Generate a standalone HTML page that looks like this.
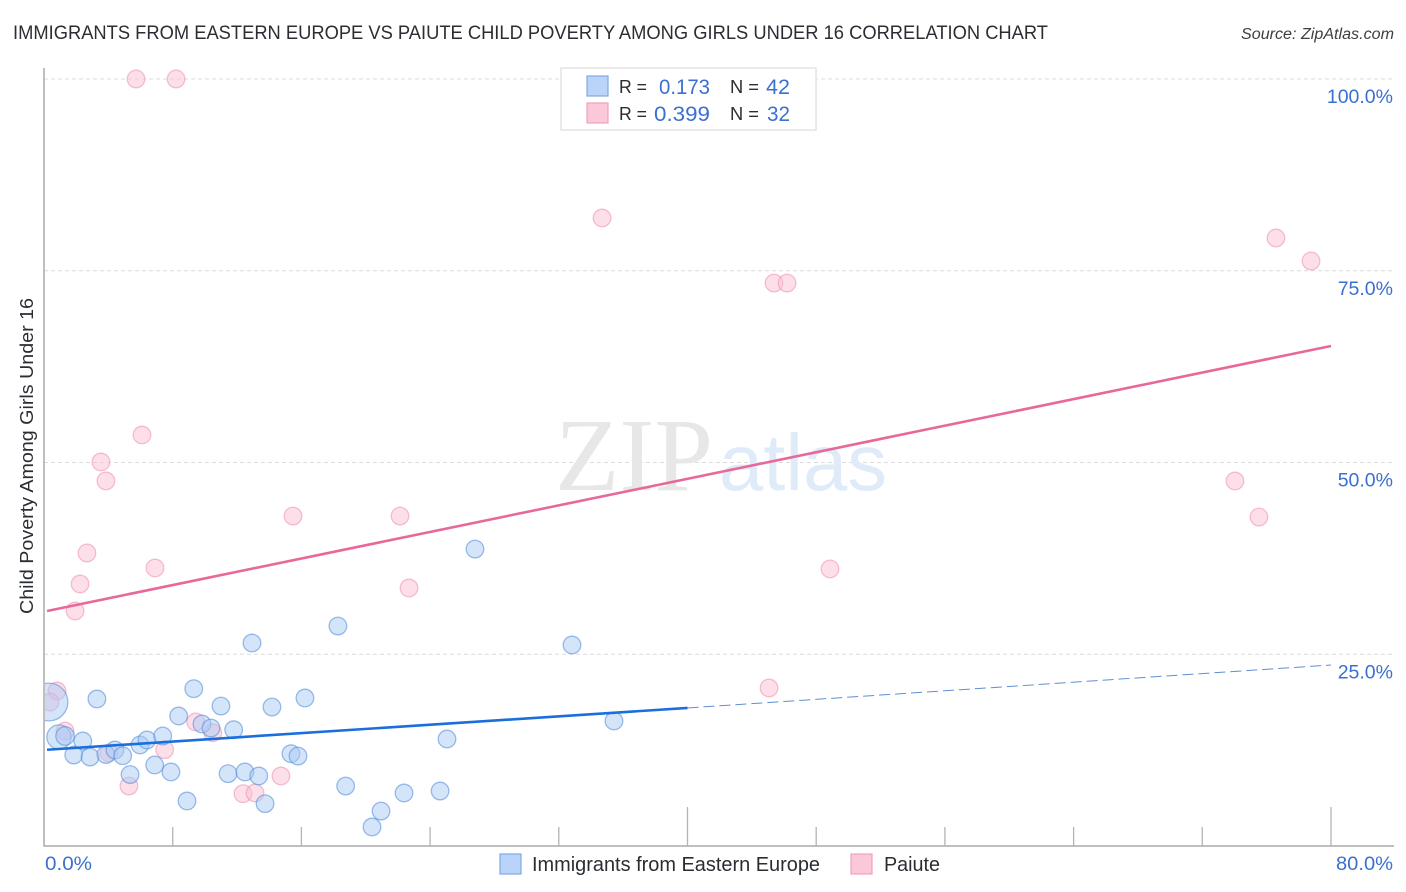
<!DOCTYPE html>
<html lang="en">
<head>
<meta charset="utf-8">
<title>Immigrants from Eastern Europe vs Paiute Child Poverty Correlation Chart</title>
<style>
html,body{margin:0;padding:0;background:#fff;width:1406px;height:892px;overflow:hidden}
svg{display:block}
text{font-family:"Liberation Sans",sans-serif}
</style>
</head>
<body>
<svg id="chart" width="1406" height="892" viewBox="0 0 1406 892" xmlns="http://www.w3.org/2000/svg">
  <defs><clipPath id="plot-clip"><rect x="45" y="60" width="1349" height="786"/></clipPath></defs>
  <text x="13" y="39" font-size="19" fill="#2a2e33" textLength="1035" lengthAdjust="spacingAndGlyphs">IMMIGRANTS FROM EASTERN EUROPE VS PAIUTE CHILD POVERTY AMONG GIRLS UNDER 16 CORRELATION CHART</text>
  <text x="1241" y="39" font-size="15.5" font-style="italic" fill="#3c4043" textLength="153" lengthAdjust="spacingAndGlyphs">Source: ZipAtlas.com</text>
  <g id="grid"></g>
  <text x="555" y="490" font-size="104" fill="#e7e7e7" style="font-family:'Liberation Serif',serif" textLength="158" lengthAdjust="spacingAndGlyphs">ZIP</text>
  <text x="719" y="490" font-size="80" fill="#e0ebf9" textLength="168" lengthAdjust="spacingAndGlyphs">atlas</text>
  <g id="axes"></g>
  <g id="points" clip-path="url(#plot-clip)"></g>
  <g id="trends"></g>
  <g id="ticks"></g>
  <text transform="translate(33,614) rotate(-90)" font-size="18.5" fill="#2a2e33" textLength="316" lengthAdjust="spacingAndGlyphs">Child Poverty Among Girls Under 16</text>

  <g>
    <rect x="561" y="68" width="255" height="62" fill="#fff" stroke="#e4e4e4" stroke-width="1.5"/>
    <rect x="587" y="76" width="21" height="20" fill="#b9d4f8" stroke="#7fa9e3" stroke-width="1.2"/>
    <rect x="587" y="103" width="21" height="20" fill="#fbc8d9" stroke="#f2a0ba" stroke-width="1.2"/>
    <text x="619" y="93" font-size="18.5" fill="#2a2e33" textLength="28" lengthAdjust="spacingAndGlyphs">R =</text>
    <text x="659" y="94" font-size="21" fill="#3a70d0" textLength="51" lengthAdjust="spacingAndGlyphs">0.173</text>
    <text x="730" y="93" font-size="18.5" fill="#2a2e33" textLength="29" lengthAdjust="spacingAndGlyphs">N =</text>
    <text x="766" y="94" font-size="21" fill="#3a70d0" textLength="24" lengthAdjust="spacingAndGlyphs">42</text>
    <text x="619" y="120" font-size="18.5" fill="#2a2e33" textLength="28" lengthAdjust="spacingAndGlyphs">R =</text>
    <text x="654" y="121" font-size="21" fill="#3a70d0" textLength="56" lengthAdjust="spacingAndGlyphs">0.399</text>
    <text x="730" y="120" font-size="18.5" fill="#2a2e33" textLength="29" lengthAdjust="spacingAndGlyphs">N =</text>
    <text x="767" y="121" font-size="21" fill="#3a70d0" textLength="23" lengthAdjust="spacingAndGlyphs">32</text>
  </g>

  <g>
    <rect x="500" y="854" width="21" height="20" fill="#b9d4f8" stroke="#7fa9e3" stroke-width="1.2"/>
    <text x="532" y="871" font-size="20" fill="#2a2e33" textLength="288" lengthAdjust="spacingAndGlyphs">Immigrants from Eastern Europe</text>
    <rect x="851" y="854" width="21" height="20" fill="#fbc8d9" stroke="#f2a0ba" stroke-width="1.2"/>
    <text x="884" y="871" font-size="20" fill="#2a2e33" textLength="56" lengthAdjust="spacingAndGlyphs">Paiute</text>
  </g>
</svg>
<script>
const xTickValues = [0, 8, 16, 24, 32, 40, 48, 56, 64, 72, 80];
const xMajorTicks = [40, 80];
const xTickLabels = ['0.0%', '80.0%'];
const xTickLabelValues = [0, 80];
const yTickValues = [100, 75, 50, 25];
const yTickLabels = ['100.0%', '75.0%', '50.0%', '25.0%'];

const blueX = [0.31,0.93,1.31,2.41,1.85,2.86,3.29,3.85,4.41,4.89,5.35,5.97,6.40,6.88,7.38,7.89,8.37,8.89,9.31,9.82,10.38,11.00,11.44,11.79,12.49,12.93,13.35,13.74,14.17,15.35,15.79,16.22,18.27,18.75,20.39,20.95,22.38,24.62,25.05,26.79,32.82,35.43];
const blueY = [18.77,14.21,14.34,13.69,11.86,11.60,19.17,11.93,12.52,11.77,9.32,13.17,13.82,10.56,14.34,9.65,16.95,5.87,20.51,15.91,15.38,18.25,9.43,15.16,9.65,26.47,9.13,5.52,18.12,12.03,11.73,19.30,28.68,7.82,2.48,4.56,6.91,7.17,13.95,38.72,26.21,16.30];
const blueWeight = [4.6,1.9,1.1,1,1,1,1,1,1,1,1,1,1,1,1,1,1,1,1,1,1,1,1,1,1,1,1,1,1,1,1,1,1,1,1,1,1,1,1,1,1,1];

const pinkX = [5.72,8.21,34.69,45.38,46.19,76.58,78.76,6.09,3.54,3.85,15.48,22.13,2.67,6.90,2.24,1.93,22.69,48.86,74.03,75.52,45.07,0.81,0.37,1.31,4.04,7.50,5.28,9.43,10.49,12.37,13.12,14.73];
const pinkY = [100,100,81.88,73.40,73.40,79.27,76.27,53.59,50.07,47.59,43.02,43.02,38.20,36.25,34.16,30.64,33.64,36.12,47.59,42.89,20.60,20.21,18.77,14.99,12.13,12.56,7.82,16.17,14.77,6.82,6.91,9.13];

const blueTrendX = [0.19, 40];
const blueTrendY = [12.55, 18.0];
const blueDashX = [40, 80];
const blueDashY = [18.0, 23.6];
const pinkTrendX = [0.19, 80];
const pinkTrendY = [30.64, 65.19];

const SVGNS = 'http://www.w3.org/2000/svg';
function xScale(v) { return 44 + (1331 - 44) * v / 80; }
function yScale(v) { return 846 - (846 - 79) * v / 100; }
function rScale(w) { return 8.8 * Math.sqrt(w); }
function make(tag, attrs, parent) {
  const el = document.createElementNS(SVGNS, tag);
  for (const k in attrs) el.setAttribute(k, attrs[k]);
  parent.appendChild(el);
  return el;
}

const gridG = document.getElementById('grid');
yTickValues.forEach(function (v) {
  const l = make('line', {x1: 44, x2: 1393, y1: yScale(v), y2: yScale(v), stroke: '#dcdcdc', 'stroke-width': 1, 'stroke-dasharray': '4 3'}, gridG);
  
  
});

const axesG = document.getElementById('axes');
const yAxis = make('line', {x1: 44, x2: 44, y1: 68, y2: 846.5, stroke: '#aaaaaa', 'stroke-width': 1.5}, axesG);


const xAxis = make('line', {x1: 44, x2: 1394, y1: 846, y2: 846, stroke: '#aaaaaa', 'stroke-width': 1.5}, axesG);


xTickValues.forEach(function (v) {
  if (v === 0) return;
  const top = xMajorTicks.indexOf(v) >= 0 ? 807 : 827;
  const t = make('line', {x1: xScale(v), x2: xScale(v), y1: top, y2: 846, stroke: '#b4b4b4', 'stroke-width': 1.3}, axesG);
  
  
});

const pointsG = document.getElementById('points');
pinkX.forEach(function (x, i) {
  const c = make('circle', {cx: xScale(x), cy: yScale(pinkY[i]), r: rScale(1), fill: '#f9bfd3', 'fill-opacity': 0.5, stroke: '#ee86a8', 'stroke-opacity': 0.5, 'stroke-width': 1.3}, pointsG);
  
  
});
blueX.forEach(function (x, i) {
  const c = make('circle', {cx: xScale(x), cy: yScale(blueY[i]), r: rScale(blueWeight[i]), fill: '#a9c9f3', 'fill-opacity': 0.5, stroke: '#4c88d8', 'stroke-opacity': 0.55, 'stroke-width': 1.3}, pointsG);
  
  
});

const trendsG = document.getElementById('trends');
const pinkLine = make('line', {x1: xScale(pinkTrendX[0]), y1: yScale(pinkTrendY[0]), x2: xScale(pinkTrendX[1]), y2: yScale(pinkTrendY[1]), stroke: '#e8689a', 'stroke-width': 2.6}, trendsG);


const blueLine = make('line', {x1: xScale(blueTrendX[0]), y1: yScale(blueTrendY[0]), x2: xScale(blueTrendX[1]), y2: yScale(blueTrendY[1]), stroke: '#1a6fdc', 'stroke-width': 2.6}, trendsG);


const blueDash = make('line', {x1: xScale(blueDashX[0]), y1: yScale(blueDashY[0]), x2: xScale(blueDashX[1]), y2: yScale(blueDashY[1]), stroke: '#5f8fd0', 'stroke-width': 1, 'stroke-dasharray': '11 5'}, trendsG);



const ticksG = document.getElementById('ticks');
yTickValues.forEach(function (v, i) {
  const t = make('text', {x: 1393, y: yScale(v) + 24, 'font-size': 19.5, fill: '#3a70d0', 'text-anchor': 'end'}, ticksG);
  t.textContent = yTickLabels[i];
  
  
});
xTickLabelValues.forEach(function (v, i) {
  const px = v === 0 ? 45 : 1336;
  const t = make('text', {x: px, y: 870, 'font-size': 19.5, fill: '#3a70d0', textLength: v === 0 ? 47 : 57, lengthAdjust: 'spacingAndGlyphs'}, ticksG);
  t.textContent = xTickLabels[i];
  
  
});
</script>
</body>
</html>
